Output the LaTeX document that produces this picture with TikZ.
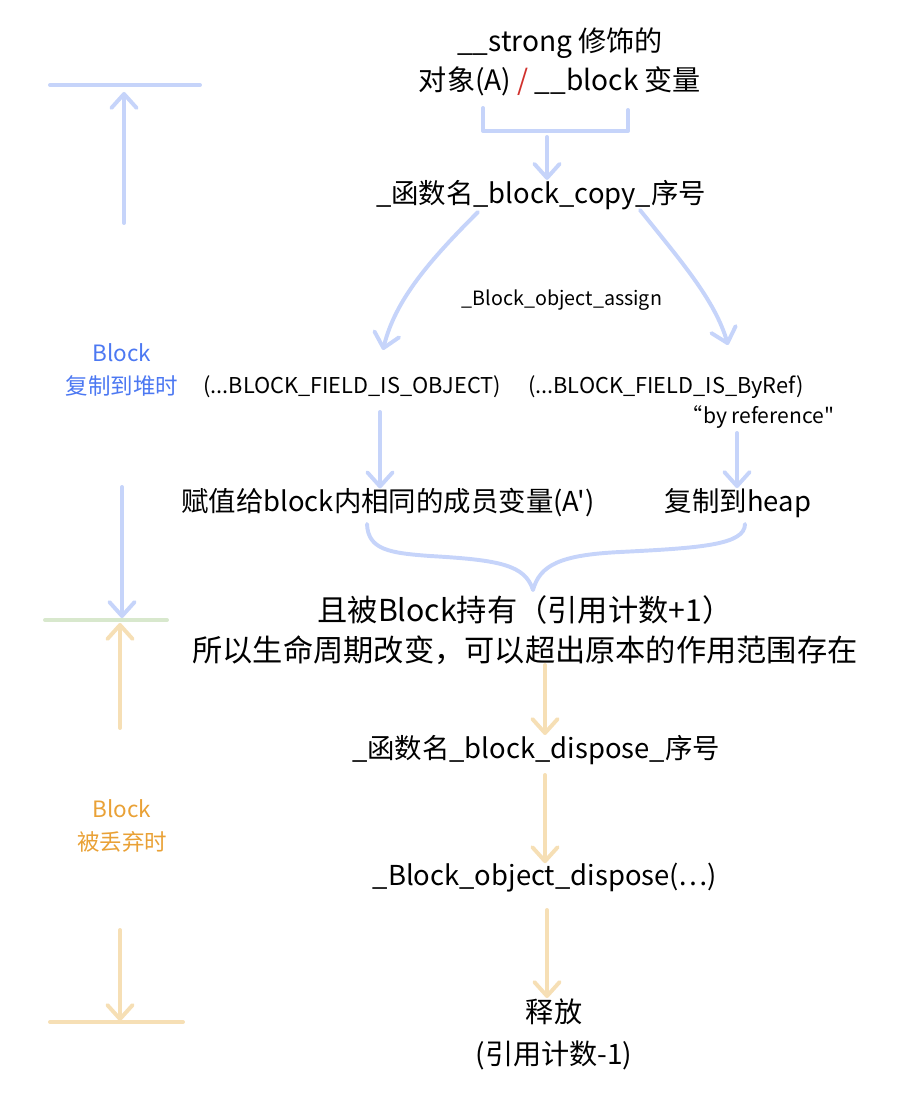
\documentclass[tikz,border=0pt]{standalone}
\usepackage{fontspec}
\setmainfont{Noto Sans CJK SC}[Ligatures=TeXOff]
\usepackage{xcolor}
\usepackage{tikz}
\usetikzlibrary{arrows.meta}
\usetikzlibrary{calc}

\definecolor{lineblue}{HTML}{C6D4FA}
\definecolor{lineorange}{HTML}{F6DFB5}
\definecolor{linegreen}{HTML}{D8E8CD}
\definecolor{txtblue}{HTML}{4C78F2}
\definecolor{txtorange}{HTML}{E9A136}
\definecolor{slashred}{HTML}{D0312D}

\tikzset{
	big/.style={font=\fontsize{19.5}{28}\selectfont, align=center, inner sep=0pt},
	small/.style={font=\fontsize{15.5}{17}\selectfont, inner sep=0pt},
	side/.style={font=\fontsize{16}{23}\selectfont, align=center, inner sep=0pt},
	barb/.style={line width=2.8pt, line cap=round, line join=round, -{Straight Barb[length=10pt,width=18pt,round]}},
	bluearrow/.style={barb, draw=lineblue},
	orangearrow/.style={barb, draw=lineorange},
	blueline/.style={line width=2.8pt, line cap=round, line join=round, draw=lineblue},
}

\begin{document}
\begin{tikzpicture}[x=0.025cm, y=-0.025cm]
	\useasboundingbox (0,0) rectangle (896,1108);
	
	% draw main texts
	\node[big, font=\fontsize{20}{28}\selectfont] (src) at (560,62) {\_\_strong 修饰的\\对象(A) {\color{slashred}/} \_\_block 变量};
	\node[big] (copy) at (541,195) {\_函数名\_block\_copy\_序号};
	\node[small, font=\fontsize{14}{17}\selectfont] (assign) at (562,300) {\_Block\_object\_assign};
	\node[small] (isobj) at (352,387) {(...BLOCK\_FIELD\_IS\_OBJECT)};
	\node[small] (isref) at (666,387) {(...BLOCK\_FIELD\_IS\_ByRef)};
	\node[small, font=\fontsize{15}{16}\selectfont] (byref) at (758,417) {“by reference"};
	\node[big] (member) at (388,503) {赋值给block内相同的成员变量(A')};
	\node[big] (heap) at (738,503) {复制到heap};
	\node[big, font=\fontsize{21.5}{28}\selectfont] (hold) at (525,630) {且被Block持有（引用计数+1）\\所以生命周期改变，可以超出原本的作用范围存在};
	\node[big] (dispose) at (536,750) {\_函数名\_block\_dispose\_序号};
	\node[big] (objdispose) at (545,878) {\_Block\_object\_dispose(\ldots)};
	\node[big, font=\fontsize{20}{30}\selectfont] (release) at (554,1034) {释放\\(引用计数-1)};
	
	% bracket under the source
	\draw[blueline] (483,108) -- (483,131) -- (628,131) -- (628,110);
	\coordinate (brm) at (547,137);
	\draw[bluearrow] (brm) -- (brm |- copy.north);
	
	% copy branches
	\draw[bluearrow] (478,212) .. controls (430,260) and (395,300) .. (383,350);
	\draw[bluearrow] (640,210) .. controls (680,260) and (715,300) .. (728,345);
	\coordinate (objs) at (380,412);
	\draw[bluearrow] (objs) -- (objs |- member.north);
	\coordinate (refs) at (737,433);
	\draw[bluearrow] (refs) -- (refs |- heap.north);
	
	% brace
	\draw[blueline] (367,524) .. controls (368,550) and (390,553) .. (430,556)
		.. controls (500,560) and (525,565) .. (533,590)
		.. controls (540,565) and (560,555) .. (620,552)
		.. controls (700,548) and (745,545) .. (745,524);
	
	% dispose chain
	\coordinate (hs) at (545,665);
	\draw[orangearrow] (hs) -- (hs |- dispose.north);
	\coordinate (ds) at (545,775);
	\draw[orangearrow] (ds) -- (ds |- objdispose.north);
	\coordinate (os) at (547,910);
	\draw[orangearrow] (os) -- (os |- release.north);
	
	% left margin
	\coordinate (tl) at (50,85);
	\coordinate (tr) at (200,85);
	\coordinate (ml) at (45,620);
	\coordinate (mr) at (167,620);
	\coordinate (bl) at (50,1022);
	\coordinate (br) at (183,1022);
	\draw[blueline] (tl) -- (tr);
	\draw[line width=2.8pt, line cap=round, draw=linegreen] (ml) -- (mr);
	\draw[line width=2.8pt, line cap=round, draw=lineorange] (bl) -- (br);
	\node[side, text=txtblue] (copytime) at (122,370) {Block\\复制到堆时};
	\node[side, text=txtorange] (droptime) at (122,826) {Block\\被丢弃时};
	\coordinate (upb) at (124,223);
	\coordinate (upe) at (124,92);
	\coordinate (dnb) at (122,487);
	\coordinate (dne) at (122,618);
	\coordinate (oub) at (120,728);
	\coordinate (oue) at (120,623);
	\coordinate (odb) at (120,930);
	\coordinate (ode) at (120,1021);
	\draw[bluearrow] (upb) -- (upe);
	\draw[bluearrow] (dnb) -- (dne);
	\draw[orangearrow] (oub) -- (oue);
	\draw[orangearrow] (odb) -- (ode);
\end{tikzpicture}
\end{document}
